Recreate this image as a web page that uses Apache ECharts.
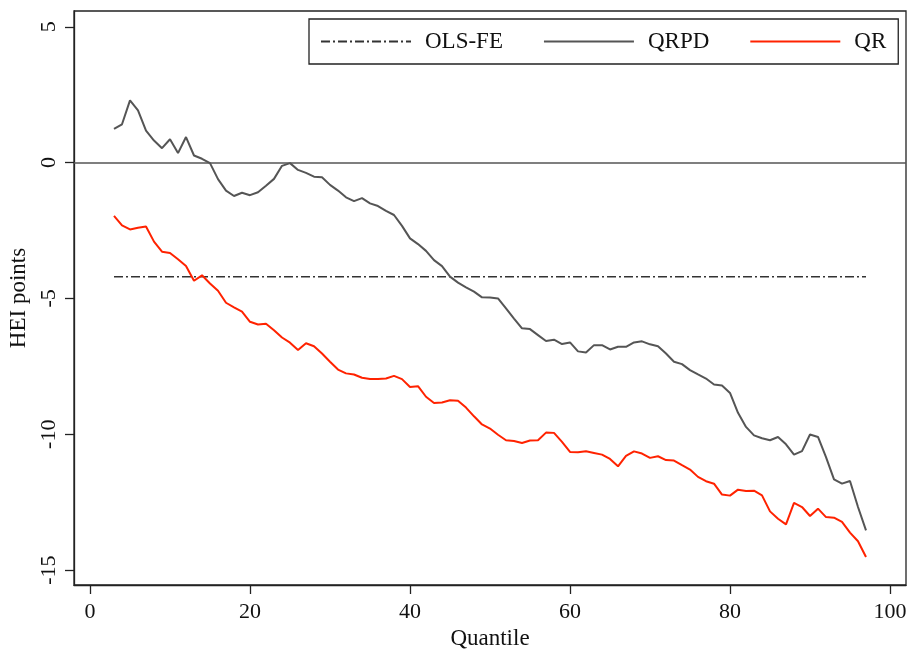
<!DOCTYPE html>
<html>
<head>
<meta charset="utf-8">
<script src="https://cdn.jsdelivr.net/npm/echarts@6/dist/echarts.min.js"></script>
<style>html,body{margin:0;padding:0;background:#fff;}#c{width:913px;height:650px;}</style>
</head>
<body>
<div id="c"></div>
<script>
const quantiles = [3,4,5,6,7,8,9,10,11,12,13,14,15,16,17,18,19,20,21,22,23,24,25,26,27,28,29,30,31,32,33,34,35,36,37,38,39,40,41,42,43,44,45,46,47,48,49,50,51,52,53,54,55,56,57,58,59,60,61,62,63,64,65,66,67,68,69,70,71,72,73,74,75,76,77,78,79,80,81,82,83,84,85,86,87,88,89,90,91,92,93,94,95,96,97];
const qrpd = [1.24,1.41,2.29,1.92,1.18,0.81,0.53,0.86,0.35,0.94,0.26,0.14,-0.02,-0.61,-1.03,-1.23,-1.11,-1.20,-1.09,-0.85,-0.60,-0.12,-0.02,-0.27,-0.38,-0.52,-0.54,-0.82,-1.03,-1.28,-1.42,-1.31,-1.50,-1.60,-1.78,-1.93,-2.33,-2.79,-3.00,-3.25,-3.59,-3.81,-4.20,-4.42,-4.59,-4.75,-4.96,-4.97,-5.00,-5.37,-5.74,-6.10,-6.13,-6.35,-6.57,-6.52,-6.68,-6.62,-6.95,-6.99,-6.72,-6.72,-6.88,-6.78,-6.78,-6.62,-6.58,-6.69,-6.76,-7.03,-7.33,-7.42,-7.64,-7.80,-7.95,-8.17,-8.21,-8.48,-9.21,-9.73,-10.04,-10.15,-10.22,-10.10,-10.37,-10.75,-10.62,-10.01,-10.10,-10.84,-11.66,-11.82,-11.72,-12.68,-13.54];
const qr = [-1.96,-2.31,-2.46,-2.40,-2.35,-2.91,-3.28,-3.33,-3.56,-3.81,-4.35,-4.15,-4.45,-4.72,-5.16,-5.33,-5.49,-5.86,-5.96,-5.93,-6.17,-6.44,-6.63,-6.90,-6.65,-6.76,-7.03,-7.33,-7.62,-7.76,-7.80,-7.92,-7.97,-7.97,-7.95,-7.85,-7.97,-8.26,-8.23,-8.62,-8.85,-8.83,-8.75,-8.77,-9.02,-9.34,-9.64,-9.79,-10.02,-10.22,-10.25,-10.32,-10.23,-10.22,-9.94,-9.95,-10.28,-10.65,-10.66,-10.63,-10.69,-10.75,-10.91,-11.18,-10.80,-10.63,-10.71,-10.87,-10.81,-10.95,-10.97,-11.14,-11.30,-11.57,-11.73,-11.82,-12.22,-12.26,-12.04,-12.09,-12.08,-12.25,-12.84,-13.11,-13.32,-12.53,-12.68,-13.01,-12.74,-13.05,-13.07,-13.23,-13.62,-13.94,-14.52];
const olsFE = -4.2;
const olsQuantiles = [3, 97];
const xTicks = [0,20,40,60,80,100];
const yTicks = [-15,-10,-5,0,5];
const seriesNames = ['OLS-FE','QRPD','QR'];

const font = 'Liberation Serif, Times New Roman, serif';
const chart = echarts.init(document.getElementById('c'), null, {renderer:'canvas'});
chart.setOption({
  animation: false,
  backgroundColor: '#fff',
  grid: {left: 74, right: 7, top: 11, bottom: 65, show: true, borderColor: '#222', borderWidth: 1.3, backgroundColor: 'transparent', outerBoundsMode: 'none', containLabel: false},
  legend: {
    left: 309, top: 19,
    data: seriesNames,
    itemWidth: 90, itemHeight: 14, itemGap: 40,
    padding: [11, 12, 11, 11],
    borderColor: '#222', borderWidth: 1.3,
    itemStyle: {opacity: 0},
    formatter: function(n){ return '{a|' + n + '}'; },
    textStyle: {fontFamily: font, fontSize: 23, color: '#111', rich: {a: {fontFamily: font, fontSize: 23, color: '#111', padding: [0,0,0,9]}}}
  },
  xAxis: {
    type: 'value', min: -2, max: 102,
    name: 'Quantile', nameLocation: 'middle', nameGap: 37,
    nameTextStyle: {fontFamily: font, fontSize: 23, color: '#111'},
    axisLine: {show: true, onZero: false, lineStyle: {color: '#222', width: 1.3}},
    axisTick: {show: true, length: 9, lineStyle: {color: '#222', width: 1.3}, customValues: xTicks},
    axisLabel: {fontFamily: font, fontSize: 22, color: '#111', margin: 16, customValues: xTicks},
    splitLine: {show: false}
  },
  yAxis: {
    type: 'value', min: -15.55, max: 5.58,
    name: 'HEI points', nameLocation: 'middle', nameGap: 40, nameRotate: 90,
    nameTextStyle: {fontFamily: font, fontSize: 23, color: '#111'},
    axisLine: {show: true, onZero: false, lineStyle: {color: '#222', width: 1.3}},
    axisTick: {show: true, length: 9, lineStyle: {color: '#222', width: 1.3}, customValues: yTicks},
    axisLabel: {fontFamily: font, fontSize: 22, color: '#111', margin: 14, rotate: 90, customValues: yTicks},
    splitLine: {show: false}
  },
  series: [
    {
      name: 'OLS-FE', type: 'line', symbol: 'none',
      data: olsQuantiles.map(q => [q, olsFE]),
      lineStyle: {color: '#333', width: 1.6, type: [9, 3, 2, 3]},
      itemStyle: {color: '#333'}
    },
    {
      name: 'QRPD', type: 'line', symbol: 'none',
      data: quantiles.map((q, i) => [q, qrpd[i]]),
      lineStyle: {color: '#555', width: 2},
      itemStyle: {color: '#555'},
      markLine: {
        silent: true, symbol: 'none', label: {show: false},
        lineStyle: {color: '#555', width: 1.6, type: 'solid'},
        data: [{yAxis: 0}]
      }
    },
    {
      name: 'QR', type: 'line', symbol: 'none',
      data: quantiles.map((q, i) => [q, qr[i]]),
      lineStyle: {color: '#ff2200', width: 2},
      itemStyle: {color: '#ff2200'}
    }
  ]
});
</script>
</body>
</html>
